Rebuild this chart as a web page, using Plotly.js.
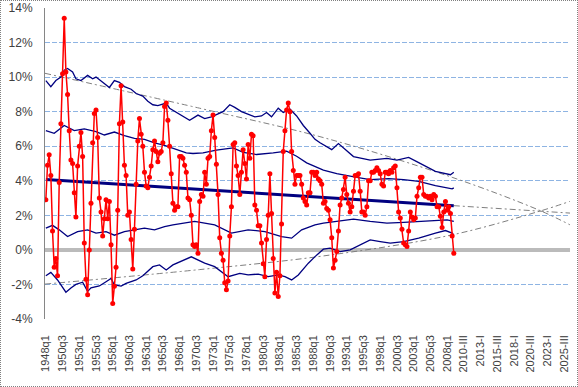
<!DOCTYPE html>
<html><head><meta charset="utf-8">
<script src="https://cdn.plot.ly/plotly-3.0.1.min.js"></script>
<style>
html,body{margin:0;padding:0;background:#fff;}
#wrap{position:relative;width:578px;height:387px;}
#chart{width:578px;height:387px;}
#frame{position:absolute;left:0;top:0;width:576px;height:385px;border:1px dotted #808080;pointer-events:none;}
</style></head><body>
<div id="wrap"><div id="chart"></div><div id="frame"></div></div>
<script>
// Quarterly growth (%), 1948q1 .. 2009q1
const growth = [
 2.9, 4.9, 5.5, 4.3, 1.1, -1.0, -0.5, -1.5, 3.9, 7.3,
 10.2, 13.4, 10.3, 9.0, 6.9, 5.2, 5.0, 3.3, 1.9, 4.85,
 6.0, 6.8, 5.4, 0.4, -1.7, -2.6, 0.0, 2.7, 6.2, 7.9,
 8.1, 6.5, 3.0, 2.2, 0.8, 1.8, 2.9, 1.8, 2.8, 0.3,
 -3.1, -2.1, -1.0, 2.3, 7.3, 9.5, 7.4, 4.9, 4.3, 2.0,
 2.2, 0.6, -1.1, 1.2, 3.8, 6.3, 7.6, 6.7, 6.0, 4.5,
 3.7, 3.6, 4.2, 4.85, 5.8, 6.3, 5.7, 5.1, 5.6, 5.7,
 6.2, 8.3, 8.5, 7.5, 6.0, 4.4, 2.7, 2.3, 2.5, 2.5,
 5.4, 5.4, 5.3, 4.9, 4.5, 3.0, 2.9, 2.0, 0.3, 0.2,
 0.3, -0.2, 2.8, 3.2, 3.1, 4.5, 3.8, 5.3, 5.4, 6.9,
 7.8, 6.5, 4.95, 3.2, 0.7, -0.2, -0.6, -1.9, -2.3, -1.8,
 0.8, 2.5, 6.1, 6.2, 4.85, 4.3, 3.2, 4.5, 5.8, 5.0,
 4.1, 6.1, 5.3, 6.7, 6.6, 2.6, 2.3, 1.4, 1.4, 0.4,
 -0.8, -1.55, 0.6, 2.0, 4.4, 2.1, -0.5, -2.5, -1.3, -2.7,
 -1.5, 1.5, 5.7, 6.9, 8.1, 8.5, 8.0, 5.7, 4.6, 3.8,
 4.3, 4.3, 4.3, 3.8, 3.0, 2.8, 2.6, 3.3, 3.3, 4.5,
 4.5, 4.3, 4.5, 4.1, 4.0, 3.8, 2.7, 2.8, 2.4, 2.3,
 1.75, 0.7, -1.05, -0.6, -0.1, 1.1, 2.6, 3.0, 3.5, 4.2,
 3.2, 2.7, 2.2, 2.5, 3.4, 4.3, 4.3, 4.4, 3.4, 2.2,
 2.2, 2.0, 2.5, 4.0, 4.0, 4.5, 4.5, 4.6, 4.75, 4.6,
 4.4, 3.8, 3.7, 4.5, 4.5, 4.4, 4.6, 4.5, 4.75, 4.85,
 3.6, 2.2, 1.85, 1.2, 0.4, 0.3, 0.2, 1.1, 2.2, 1.9,
 1.75, 1.85, 3.1, 3.6, 4.2, 4.2, 3.2, 3.1, 3.1, 3.0,
 3.1, 2.9, 3.2, 3.1, 2.5, 2.5, 1.95, 1.3, 2.2, 2.8,
 2.3, 2.5, 2.1, 0.8, -0.2
];

// band lines: quarter index (0 = 1948q1) and value (%)
const upperOuterQ = [0,3,6,9,11,13,16,18,21,25,28,30,34,38,41,44,47,51,54,58,61,64,67,72,74,78,82,86,91,95,99,103,106,110,113,117,121,125,129,132,135,139,142,146,150,154,158,161,164,171,175,184,194,204,210,217,223,233,242,244];
const upperOuter = [9.8,9.45,9.8,10.0,10.4,10.5,10.3,9.9,9.8,10.1,9.9,10.0,9.7,9.4,9.8,9.7,9.45,9.3,9.05,8.9,8.6,8.4,8.35,8.5,8.2,7.95,7.7,7.5,7.8,7.6,7.7,7.85,8.0,8.4,8.25,8.0,7.85,7.7,7.75,7.95,7.7,8.2,7.95,8.15,7.75,7.2,6.75,6.4,6.2,5.8,6.15,5.4,5.2,5.3,5.2,5.35,5.05,4.55,4.35,4.5];

const upperInnerQ = [0,5,11,17,23,30,35,41,47,53,59,65,71,77,84,88,94,102,112,118,126,136,144,150,156,166,174,186,194,205,214,223,233,243,244];
const upperInner = [6.9,6.75,7.2,6.9,7.0,6.85,6.65,6.82,6.62,6.45,6.4,6.2,6.05,5.85,5.62,5.58,5.62,5.77,5.9,5.65,5.52,5.62,5.72,5.42,5.04,4.62,4.42,4.2,4.07,4.12,4.07,3.97,3.72,3.53,3.59];

const lowerInnerQ = [0,4,8,13,19,25,30,36,41,47,53,59,65,71,76,84,89,101,111,121,131,141,147,153,161,166,174,184,194,204,214,223,233,240,244];
const lowerInner = [1.26,1.42,1.16,0.77,1.06,1.16,0.97,1.06,0.85,1.06,1.16,1.26,1.16,1.35,1.45,1.55,1.65,1.45,0.97,1.16,1.06,0.77,0.68,1.16,1.45,1.55,1.65,1.78,1.65,1.55,1.59,1.65,1.7,1.74,1.65];

const lowerOuterQ = [0,3,7,12,15,18,22,25,27,32,36,39,41,45,48,51,54,58,64,68,72,76,81,84,87,95,101,109,116,121,127,133,139,143,147,151,157,161,166,170,176,182,188,194,200,206,214,223,233,239,243,244];
const lowerOuter = [-1.5,-1.3,-1.74,-2.45,-2.2,-2.0,-1.87,-2.4,-2.2,-2.09,-1.84,-1.65,-2.03,-2.1,-1.94,-1.84,-1.74,-1.5,-0.97,-0.87,-1.16,-0.87,-0.65,-0.55,-0.4,-0.77,-0.97,-1.55,-1.36,-1.45,-1.4,-1.55,-1.45,-1.55,-1.74,-1.45,-0.77,-0.39,0.04,0.1,-0.1,0.0,0.29,0.58,0.48,0.39,0.48,0.68,0.97,1.12,0.97,0.87];

// linear trend (thick) and its dashed extension
const trendQ = [0, 244];
const trend = [4.07, 2.56];
const trendExtQ = [244, 313.5];
const trendExt = [2.56, 2.13];

// dashed envelope trend lines
const upperTrendQ = [-0.5, 92, 166, 243, 295, 313.5];
const upperTrend = [10.22, 8.2, 6.5, 4.2, 2.3, 1.45];
const lowerTrendQ = [-0.5, 92, 166, 243, 295, 313.5];
const lowerTrend = [-1.98, -1.14, -0.35, 0.87, 2.23, 2.81];

const xTickLabels = ['1948q1','1950q3','1953q1','1955q3','1958q1','1960q3','1963q1','1965q3','1968q1','1970q3','1973q1','1975q3','1978q1','1980q3','1983q1','1985q3','1988q1','1990q3','1993q1','1995q3','1998q1','2000q3','2003q1','2005q3','2008q1','2010-III','2013-I','2015-III','2018-I','2020-III','2023-I','2025-III'];
const yTickVals = [-4,-2,0,2,4,6,8,10,12,14];
const yTickLabels = ['-4%','-2%','0%','2%','4%','6%','8%','10%','12%','14%'];

const navy = '#000080';
const gray = '#7F7F7F';
function band(xq, yv){return {x:xq, y:yv, type:'scatter', mode:'lines', line:{color:navy, width:1.3}, hoverinfo:'skip'};}
const traces = [
  {x:upperTrendQ, y:upperTrend, type:'scatter', mode:'lines', line:{color:gray, width:1, dash:'6px,3px,2px,3px', shape:'spline'}},
  {x:lowerTrendQ, y:lowerTrend, type:'scatter', mode:'lines', line:{color:gray, width:1, dash:'6px,3px,2px,3px', shape:'spline'}},
  {x:trendExtQ, y:trendExt, type:'scatter', mode:'lines', line:{color:gray, width:1, dash:'6px,3px,2px,3px'}},
  band(upperOuterQ, upperOuter),
  band(upperInnerQ, upperInner),
  band(lowerInnerQ, lowerInner),
  band(lowerOuterQ, lowerOuter),
  {x:trendQ, y:trend, type:'scatter', mode:'lines', line:{color:navy, width:3}},
  {x:growth.map((_, i) => i), y:growth, type:'scatter', mode:'lines+markers',
   line:{color:'#FF0000', width:1.5}, marker:{color:'#FF0000', size:5, symbol:'circle'}}
];

const layout = {
  width:578, height:387,
  margin:{l:45, r:8, t:8, b:68},
  paper_bgcolor:'#ffffff', plot_bgcolor:'#ffffff',
  showlegend:false,
  font:{family:'"Liberation Sans", Arial, sans-serif', color:'#404040', size:11},
  xaxis:{
    range:[-0.5, 313.5], showgrid:false, zeroline:false, showline:false,
    tickmode:'array', tickvals:xTickLabels.map((_, k) => k*10), ticktext:xTickLabels,
    tickangle:-90, ticks:'', ticklabelstandoff:13, tickfont:{size:11, color:'#404040'}
  },
  yaxis:{
    range:[-4, 14], tickmode:'array', tickvals:yTickVals, ticktext:yTickLabels,
    showgrid:true, gridcolor:'#8EB4E3', griddash:'5px,2px', gridwidth:1,
    zeroline:true, zerolinecolor:'#BBBBBB', zerolinewidth:4,
    showline:true, linecolor:'#868686', linewidth:1,
    ticks:'', ticklabelstandoff:9, tickfont:{size:12, color:'#404040'}
  }
};
Plotly.newPlot('chart', traces, layout, {displayModeBar:false, staticPlot:true});
</script></body></html>
